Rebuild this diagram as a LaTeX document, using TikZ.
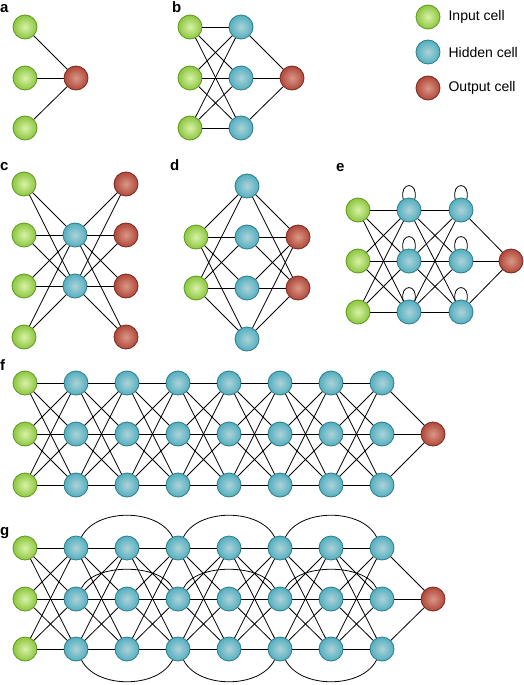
\documentclass[tikz,border=0pt]{standalone}
\usepackage{fontspec}
\setmainfont{Liberation Sans}
\usetikzlibrary{positioning}

\definecolor{ingreen}{HTML}{8DC63F}
\definecolor{ingreenlt}{HTML}{D8F2A8}
\definecolor{ingreendk}{HTML}{5E9A1F}
\definecolor{hidteal}{HTML}{52AFC0}
\definecolor{hidteallt}{HTML}{AED2D8}
\definecolor{hidtealdk}{HTML}{2E7C88}
\definecolor{outred}{HTML}{B0473A}
\definecolor{outredlt}{HTML}{DA9886}
\definecolor{outreddk}{HTML}{7A2A20}

\begin{document}
\begin{tikzpicture}[
      x=1pt, y=-1pt,
      cell/.style={circle, line width=0.8pt, minimum size=24pt, inner sep=0pt, shading=radial},
      incell/.style={cell, draw=ingreendk, inner color=ingreenlt, outer color=ingreen},
      hidcell/.style={cell, draw=hidtealdk, inner color=hidteallt, outer color=hidteal},
      outcell/.style={cell, draw=outreddk, inner color=outredlt, outer color=outred},
      conn/.style={draw=black, line width=0.8pt},
      panel/.style={font=\fontsize{15}{15}\selectfont\bfseries, anchor=base west, inner sep=0pt},
      legtxt/.style={font=\fontsize{14}{15}\selectfont, inner sep=0pt}
    ]
    \useasboundingbox (0,0) rectangle (524,685);

    % Legende
    \node[incell]  (leg-in)  at (428,17) {};
    \node[hidcell] (leg-hid) at (428,52) {};
    \node[outcell] (leg-out) at (428,88) {};
    \node[legtxt, right=8pt of leg-in]  {Input cell};
    \node[legtxt, right=8pt of leg-hid] {Hidden cell};
    \node[legtxt, right=8pt of leg-out] {Output cell};

    % a
    \node[panel] (lbl-a) at (0,13) {a};
    \foreach \r/\yy in {1/27,2/78,3/128}
      \node[incell] (a-i\r) at (25,\yy) {};
    \node[outcell] (a-o) at (76,78) {};
    \foreach \r in {1,2,3}
      \draw[conn] (a-i\r) -- (a-o);

    % b
    \node[panel] (lbl-b) at (172,13) {b};
    \foreach \r/\yy in {1/27,2/78,3/128} {
      \node[incell]  (b-i\r) at (190,\yy) {};
      \node[hidcell] (b-h\r) at (241,\yy) {};
    }
    \node[outcell] (b-o) at (292,78) {};
    \foreach \r in {1,2,3} {
      \foreach \s in {1,2,3}
        \draw[conn] (b-i\r) -- (b-h\s);
      \draw[conn] (b-h\r) -- (b-o);
    }

    % c
    \node[panel] (lbl-c) at (0,170) {c};
    \foreach \r/\yy in {1/184,2/235,3/286,4/337} {
      \node[incell]  (c-i\r) at (24,\yy) {};
      \node[outcell] (c-o\r) at (126,\yy) {};
    }
    \node[hidcell] (c-h1) at (75,235) {};
    \node[hidcell] (c-h2) at (75,286) {};
    \foreach \r in {1,...,4}
      \foreach \s in {1,2} {
        \draw[conn] (c-i\r) -- (c-h\s);
        \draw[conn] (c-h\s) -- (c-o\r);
      }

    % d
    \node[panel] (lbl-d) at (170,170) {d};
    \foreach \r/\yy in {1/186,2/237,3/288,4/339}
      \node[hidcell] (d-h\r) at (247,\yy) {};
    \foreach \r/\yy in {1/237,2/288} {
      \node[incell]  (d-i\r) at (196,\yy) {};
      \node[outcell] (d-o\r) at (298,\yy) {};
    }
    \foreach \r in {1,2}
      \foreach \s in {1,...,4} {
        \draw[conn] (d-i\r) -- (d-h\s);
        \draw[conn] (d-h\s) -- (d-o\r);
      }

    % e
    \node[panel] (lbl-e) at (336,171) {e};
    \foreach \r/\yy in {1/210,2/261,3/312} {
      \node[incell]  (e-i\r)  at (358,\yy) {};
      \node[hidcell] (e-h1-\r) at (409,\yy) {};
      \node[hidcell] (e-h2-\r) at (461,\yy) {};
    }
    \node[outcell] (e-o) at (511,261) {};
    \foreach \r in {1,2,3} {
      \foreach \s in {1,2,3} {
        \draw[conn] (e-i\r) -- (e-h1-\s);
        \draw[conn] (e-h1-\r) -- (e-h2-\s);
      }
      \draw[conn] (e-h2-\r) -- (e-o);
      % Rueckkopplung
      \foreach \k in {1,2}
        \draw[conn] (e-h\k-\r.118) .. controls +(-4,-18) and +(4,-18) .. (e-h\k-\r.62);
    }

    % f
    \node[panel] (lbl-f) at (0,370) {f};
    \foreach \r/\yy in {1/383,2/434,3/485} {
      \node[incell] (f-i\r) at (25,\yy) {};
      \foreach \k in {1,...,7}
        \node[hidcell] (f-h\k-\r) at ({25+51*\k},\yy) {};
    }
    \node[outcell] (f-o) at (433,434) {};
    \foreach \r in {1,2,3} {
      \foreach \s in {1,2,3} {
        \draw[conn] (f-i\r) -- (f-h1-\s);
        \foreach \k/\n in {1/2,2/3,3/4,4/5,5/6,6/7}
          \draw[conn] (f-h\k-\r) -- (f-h\n-\s);
      }
      \draw[conn] (f-h7-\r) -- (f-o);
    }

    % g
    \node[panel] (lbl-g) at (0,535) {g};
    \foreach \r/\yy in {1/548,2/599,3/649} {
      \node[incell] (g-i\r) at (25,\yy) {};
      \foreach \k in {1,...,7}
        \node[hidcell] (g-h\k-\r) at ({25+51*\k},\yy) {};
    }
    \node[outcell] (g-o) at (433,599) {};
    \foreach \r in {1,2,3} {
      \foreach \s in {1,2,3} {
        \draw[conn] (g-i\r) -- (g-h1-\s);
        \foreach \k/\n in {1/2,2/3,3/4,4/5,5/6,6/7}
          \draw[conn] (g-h\k-\r) -- (g-h\n-\s);
      }
      \draw[conn] (g-h7-\r) -- (g-o);
    }
    % Sprungverbindungen
    \foreach \a/\b in {1/3,3/5,5/7} {
      \draw[conn] (g-h\a-1) .. controls +(20,-40) and +(-20,-40) .. (g-h\b-1);
      \draw[conn] (g-h\a-2) .. controls +(18,-36) and +(-18,-36) .. (g-h\b-2);
      \draw[conn] (g-h\a-3) .. controls +(20,40) and +(-20,40) .. (g-h\b-3);
    }
  \end{tikzpicture}
\end{document}
